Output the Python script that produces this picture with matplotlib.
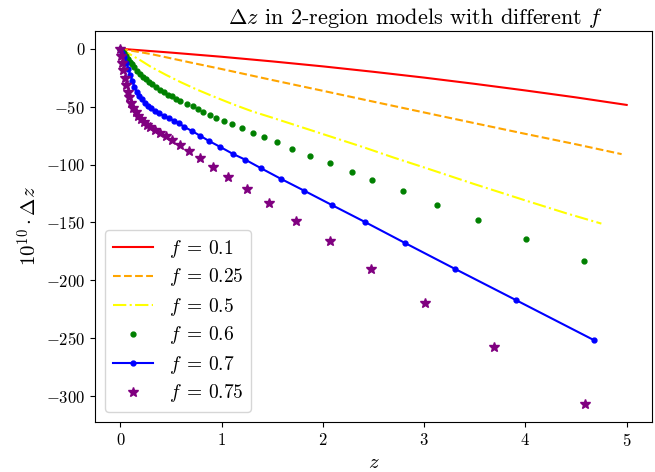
import matplotlib
matplotlib.use("Agg")
import matplotlib.pyplot as plt

plt.rcParams['font.family'] = 'serif'
plt.rcParams['font.serif'] = ['cmr10', 'DejaVu Serif']
plt.rcParams['mathtext.fontset'] = 'cm'
plt.rcParams['axes.formatter.use_mathtext'] = True
plt.rcParams['axes.unicode_minus'] = True

# f = 0.1 (red solid)
z_01 = [0, 0.5, 1.0, 1.5, 2.0, 2.5, 3.0, 3.5, 4.0, 4.5, 5.0]
d_01 = [0, -3.3, -6.9, -10.9, -15.2, -19.9, -24.9, -30.3, -36.0, -42.0, -48.5]

# f = 0.25 (orange dashed)
z_025 = [0, 0.3, 0.7, 1.0, 1.5, 2.0, 2.5, 3.0, 3.5, 4.0, 4.5, 4.95]
d_025 = [0, -4.5, -12.0, -17.5, -27.0, -36.3, -45.7, -55.0, -64.3, -73.5, -82.5, -91.0]

# f = 0.5 (yellow dash-dot)
z_05 = [0, 0.1, 0.2, 0.3, 0.45, 0.6, 0.75, 0.9, 1.1, 1.3, 1.5, 1.8, 2.1, 2.4, 2.7,
        3.0, 3.5, 4.0, 4.4, 4.75]
d_05 = [0, -5.0, -10.0, -15.5, -22.5, -29.0, -35.0, -40.5, -47.5, -54.0, -59.5, -68.0,
        -76.5, -85.0, -94.0, -102.5, -117.0, -131.0, -142.0, -151.0]

# f = 0.6 (green dots)
z_06 = [0, 0.02, 0.04, 0.06, 0.08, 0.10, 0.12, 0.14, 0.165, 0.19, 0.22, 0.25, 0.28,
        0.31, 0.35, 0.39, 0.43, 0.47, 0.51, 0.55, 0.592, 0.658, 0.717, 0.763, 0.816,
        0.882, 0.948, 1.024, 1.106, 1.201, 1.31, 1.415, 1.547, 1.698, 1.873, 2.067,
        2.29, 2.49, 2.79, 3.13, 3.53, 4.01, 4.58]
d_06 = [0, -1.5, -3.5, -6.0, -8.5, -11.0, -13.5, -16.0, -19.0, -22.0, -24.5, -26.5,
        -28.5, -30.5, -33.0, -35.5, -37.5, -39.5, -41.2, -43.0, -44.7, -47.5, -49.8,
        -51.7, -54.2, -56.9, -59.5, -62.3, -65.1, -68.5, -72.6, -76.1, -80.6, -86.2,
        -92.2, -98.8, -106.6, -113.0, -123.0, -134.6, -148.0, -164.2, -183.5]

# f = 0.7 (blue line with dots)
z_07 = [0, 0.02, 0.04, 0.06, 0.08, 0.10, 0.12, 0.14, 0.16, 0.185, 0.21, 0.24, 0.27,
        0.30, 0.34, 0.38, 0.43, 0.48, 0.53, 0.576, 0.632, 0.707, 0.786, 0.879, 0.987,
        1.112, 1.234, 1.392, 1.583, 1.816, 2.09, 2.42, 2.81, 3.30, 3.91, 4.68]
d_07 = [0, -3.5, -7.5, -12.0, -17.5, -23.0, -28.0, -33.0, -37.0, -40.5, -43.5, -46.5,
        -49.0, -51.0, -53.5, -55.6, -58.0, -60.0, -62.0, -64.2, -67.5, -71.0, -75.0,
        -79.8, -84.8, -90.8, -95.8, -103.3, -112.2, -122.6, -135.0, -149.8, -167.7,
        -189.9, -217.2, -251.8]

# f = 0.75 (purple stars)
z_075 = [0, 0.01, 0.02, 0.03, 0.045, 0.06, 0.075, 0.09, 0.11, 0.13, 0.15, 0.175,
         0.20, 0.23, 0.26, 0.296, 0.34, 0.395, 0.45, 0.51, 0.592, 0.678, 0.786, 0.911,
         1.066, 1.25, 1.464, 1.735, 2.07, 2.48, 3.01, 3.69, 4.59]
d_075 = [0, -6.0, -12.0, -18.0, -25.0, -31.0, -37.0, -42.0, -47.0, -51.0, -54.5,
         -58.0, -61.0, -63.5, -65.5, -67.5, -70.0, -72.5, -75.5, -78.6, -83.0, -88.2,
         -94.3, -101.8, -110.5, -120.8, -133.2, -148.4, -166.0, -189.9, -219.3,
         -257.3, -307.0]

x_ticks = [0, 1, 2, 3, 4, 5]
y_ticks = [0, -50, -100, -150, -200, -250, -300]

fig = plt.figure(figsize=(6.55, 4.72), dpi=100)
ax = fig.add_axes([95 / 655, 1 - 422 / 472, 557 / 655, (422 - 31) / 472])

ax.plot(z_01, d_01, color='red', linestyle='-', lw=1.5, label=r'$f\;=\,0.1$')
ax.plot(z_025, d_025, color='orange', linestyle='--', lw=1.5, label=r'$f\;=\,0.25$')
ax.plot(z_05, d_05, color='yellow', linestyle='-.', lw=1.5, label=r'$f\;=\,0.5$')
ax.plot(z_06, d_06, color='green', linestyle='none', marker='.', ms=7, label=r'$f\;=\,0.6$')
ax.plot(z_07, d_07, color='blue', linestyle='-', marker='.', ms=7, lw=1.5, label=r'$f\;=\,0.7$')
ax.plot(z_075, d_075, color='purple', linestyle='none', marker='*', ms=7, label=r'$f\;=\,0.75$')

ax.set_xticks(x_ticks)
ax.set_yticks(y_ticks)
ax.tick_params(labelsize=12)
ax.set_xlabel(r'$z$', fontsize=15)
ax.set_ylabel(r'$10^{10}\cdot\Delta z$', fontsize=15)
ax.set_title(r'$\Delta z$ in 2-region models with different $f$', fontsize=16, pad=5,
             x=0.575)
ax.legend(loc='lower left', fontsize=14, handlelength=2.1, labelspacing=0.36)

fig.savefig('out.png', dpi=100)
